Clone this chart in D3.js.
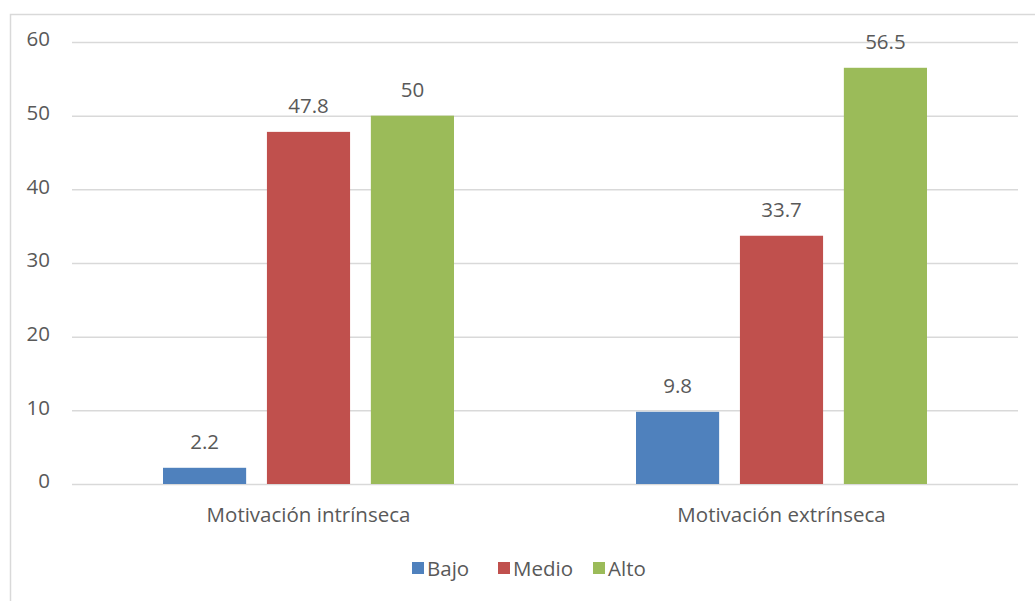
<!DOCTYPE html>
<html>
<head>
<meta charset="utf-8">
<script src="https://cdn.jsdelivr.net/npm/d3@7"></script>
<style>
  html, body { margin: 0; padding: 0; background: #fff; }
  svg text { font-family: "Open Sans", "Noto Sans", sans-serif; fill: #595959; }
</style>
</head>
<body>
<svg id="chart" width="1035" height="601"></svg>
<script>
// Chart data
const categories = ["Motivación intrínseca", "Motivación extrínseca"];
const seriesNames = ["Bajo", "Medio", "Alto"];
const bajo = [2.2, 9.8];
const medio = [47.8, 33.7];
const alto = [50, 56.5];
const yTicks = [0, 10, 20, 30, 40, 50, 60];
const colors = ["#4F81BD", "#C0504D", "#9BBB59"];

const seriesValues = [bajo, medio, alto];

const svg = d3.select("#chart");
const W = 1035, H = 601;
const FS = 20.5;

// Outer chart frame
svg.append("rect")
  .attr("x", 10.5).attr("y", 14.5)
  .attr("width", W + 10).attr("height", H + 10)
  .attr("fill", "#fff").attr("stroke", "#d9d9d9").attr("stroke-width", 1.5);

const plot = { left: 72, right: 1018, top: 42, bottom: 484 };

const y = d3.scaleLinear().domain([0, 60]).range([plot.bottom, plot.top]);
const x0 = d3.scaleBand().domain(categories).range([plot.left, plot.right]).paddingInner(0).paddingOuter(0);
const x1 = d3.scaleBand().domain(seriesNames).range([91, x0.bandwidth() - 91]).paddingInner(0.2).paddingOuter(0);

// Gridlines and y tick labels
const yAxis = d3.axisLeft(y).tickValues(yTicks).tickSize(-(plot.right - plot.left)).tickPadding(22).tickFormat(d3.format("d"));
const gy = svg.append("g").attr("transform", `translate(${plot.left},0)`).call(yAxis);
gy.select(".domain").remove();
gy.selectAll(".tick line").attr("stroke", "#d9d9d9").attr("stroke-width", 1.5);
gy.selectAll(".tick text").attr("font-size", FS).attr("fill", "#595959").attr("dy", "0.18em")
  .style("font-family", "'Open Sans', sans-serif");

// Bars
const groups = svg.append("g").selectAll("g")
  .data(categories)
  .join("g")
  .attr("transform", d => `translate(${x0(d)},0)`);

groups.selectAll("rect")
  .data((c, ci) => seriesNames.map((s, si) => ({ s, si, v: seriesValues[si][ci] })))
  .join("rect")
  .attr("x", d => x1(d.s))
  .attr("width", x1.bandwidth())
  .attr("y", d => y(d.v))
  .attr("height", d => y(0) - y(d.v))
  .attr("fill", d => colors[d.si]);

// Value labels
groups.selectAll("text.val")
  .data((c, ci) => seriesNames.map((s, si) => ({ s, si, v: seriesValues[si][ci] })))
  .join("text")
  .attr("class", "val")
  .attr("x", d => x1(d.s) + x1.bandwidth() / 2)
  .attr("y", d => y(d.v) - 19)
  .attr("text-anchor", "middle")
  .attr("font-size", FS)
  .attr("fill", "#404040")
  .text(d => d.v);

// Category labels
svg.append("g").selectAll("text")
  .data(categories)
  .join("text")
  .attr("x", d => x0(d) + x0.bandwidth() / 2)
  .attr("y", 522)
  .attr("text-anchor", "middle")
  .attr("font-size", FS)
  .text(d => d);

// Legend
const legend = svg.append("g").attr("transform", "translate(0,562)");
const legendX = [412, 498, 593];
seriesNames.forEach((s, i) => {
  const g = legend.append("g").attr("transform", `translate(${legendX[i]},0)`);
  g.append("rect").attr("x", 0).attr("y", 0).attr("width", 12).attr("height", 12).attr("fill", colors[i]);
  g.append("text").attr("x", 15).attr("y", 14).attr("font-size", FS).text(s);
});
</script>
</body>
</html>
